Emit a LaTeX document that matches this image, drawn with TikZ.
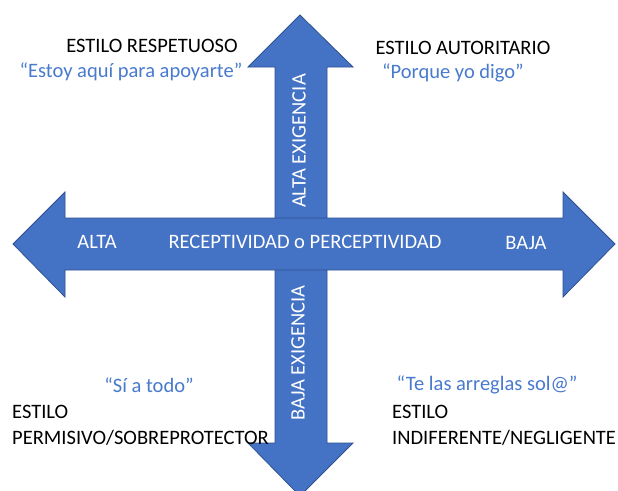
\documentclass[tikz,border=0pt]{standalone}
\usepackage{fontspec}
\setmainfont{Carlito}
\definecolor{arrowfill}{RGB}{68,114,196}
\definecolor{arrowline}{RGB}{47,82,143}
\definecolor{quoteblue}{RGB}{72,122,206}
\tikzset{
  bigarrow/.style={fill=arrowfill,draw=arrowline,line width=0.8pt,line join=miter},
  blacktxt/.style={font=\fontsize{20.5}{24}\selectfont,text=black,inner sep=0pt},
  bluetxt/.style={font=\fontsize{20.5}{24}\selectfont,text=quoteblue,inner sep=0pt},
  whitetxt/.style={font=\fontsize{20.5}{24}\selectfont,text=white,inner sep=0pt}
}
\begin{document}
\begin{tikzpicture}[x=1pt,y=-1pt]
\useasboundingbox (0,0) rectangle (618,490);
\fill[white] (0,0) rectangle (618,490);
% vertical double arrow
\draw[bigarrow] (300,15) -- (353,67) -- (327,67) -- (327,443) -- (353,443) -- (300,496)
  -- (248,443) -- (275,443) -- (275,67) -- (248,67) -- cycle;
% horizontal double arrow
\draw[bigarrow] (13,244) -- (65,192) -- (65,218) -- (563,218) -- (563,192) -- (615,244)
  -- (563,297) -- (563,270) -- (65,270) -- (65,297) -- cycle;
% arrow labels
\node[whitetxt] (alta) at (97,242) {ALTA};
\node[whitetxt] (recep) at (305,242) {RECEPTIVIDAD o PERCEPTIVIDAD};
\node[whitetxt] (baja) at (526,243) {BAJA};
\node[whitetxt,rotate=90] (altaex) at (299,141) {ALTA EXIGENCIA};
\node[whitetxt,rotate=90] (bajaex) at (298,353) {BAJA EXIGENCIA};
% quadrant texts
\node[blacktxt] (resp) at (152,46) {ESTILO RESPETUOSO};
\node[bluetxt] (respq) at (131,72) {“Estoy aquí para apoyarte”};
\node[blacktxt] (auto) at (463,48) {ESTILO AUTORITARIO};
\node[bluetxt] (autoq) at (453,73) {“Porque yo digo”};
\node[bluetxt] (permq) at (149,385) {“Sí a todo”};
\node[blacktxt,anchor=west] (perm1) at (12,412) {ESTILO};
\node[blacktxt,anchor=west] (perm2) at (12,438) {PERMISIVO/SOBREPROTECTOR};
\node[bluetxt] (indq) at (487,385) {“Te las arreglas sol@”};
\node[blacktxt,anchor=west] (ind1) at (392,412) {ESTILO};
\node[blacktxt,anchor=west] (ind2) at (392,438) {INDIFERENTE/NEGLIGENTE};
\end{tikzpicture}
\end{document}
